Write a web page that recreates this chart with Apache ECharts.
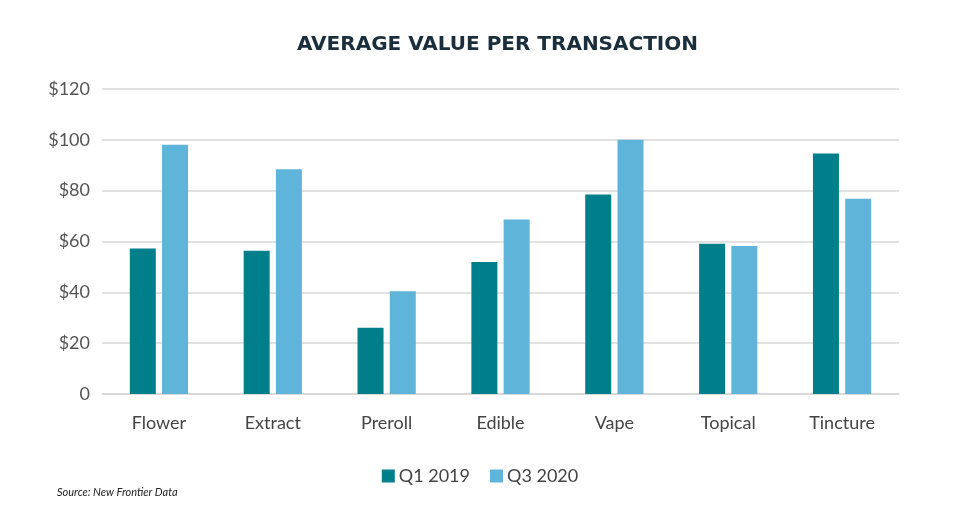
<!DOCTYPE html>
<html>
<head>
<meta charset="utf-8">
<script src="https://cdn.jsdelivr.net/npm/echarts@6/dist/echarts.min.js"></script>
<style>
html,body{margin:0;padding:0;background:#fff;}
#chart{width:960px;height:521px;}
</style>
</head>
<body>
<div id="chart"></div>
<script>
const categories = ['Flower', 'Extract', 'Preroll', 'Edible', 'Vape', 'Topical', 'Tincture'];
const seriesNames = ['Q1 2019', 'Q3 2020'];
const q12019 = [57.2, 56.4, 26.1, 51.9, 78.5, 59.1, 94.6];
const q32020 = [98.1, 88.4, 40.4, 68.7, 100.0, 58.2, 76.8];
const yTicks = [0, 20, 40, 60, 80, 100, 120];
const titleText = 'AVERAGE VALUE PER TRANSACTION';
const sourceText = 'Source: New Frontier Data';

const chart = echarts.init(document.getElementById('chart'));
const font = 'Lato';
chart.setOption({
  animation: false,
  backgroundColor: '#ffffff',
  title: {
    text: titleText,
    left: 292,
    top: 30,
    textStyle: { fontFamily: 'DejaVu Sans', fontSize: 20, fontWeight: 'bold', color: '#1b2e3c' }
  },
  graphic: [{
    type: 'text',
    left: 57,
    top: 487,
    style: { text: sourceText, fontFamily: font, fontStyle: 'italic', fontSize: 11, fill: '#222' }
  }],
  legend: {
    data: seriesNames,
    left: 'center',
    top: 462,
    itemWidth: 13,
    itemHeight: 13,
    itemGap: 20,
    icon: 'rect',
    textStyle: { fontFamily: font, fontSize: 18, color: '#444', padding: [0, 0, 0, -1] }
  },
  grid: { left: 102, right: 61, top: 89, bottom: 127, containLabel: false },
  xAxis: {
    type: 'category',
    data: categories,
    axisLine: { show: true, lineStyle: { color: '#d6d6d6', width: 1.5 } },
    axisTick: { show: false },
    axisLabel: { fontFamily: font, fontSize: 18, color: '#444', margin: 20 }
  },
  yAxis: {
    type: 'value',
    min: yTicks[0],
    max: yTicks[yTicks.length - 1],
    interval: 20,
    axisLine: { show: false },
    axisTick: { show: false },
    splitLine: { lineStyle: { color: '#d9d9d9', width: 1.5 } },
    axisLabel: {
      fontFamily: font, fontSize: 18, color: '#555', margin: 12,
      formatter: v => v === 0 ? '0' : '$' + v
    }
  },
  series: [
    { name: seriesNames[0], type: 'bar', data: q12019, barWidth: 26, barGap: '24%', itemStyle: { color: '#007f8a' } },
    { name: seriesNames[1], type: 'bar', data: q32020, barWidth: 26, itemStyle: { color: '#5fb5d9' } }
  ]
});
</script>
</body>
</html>
